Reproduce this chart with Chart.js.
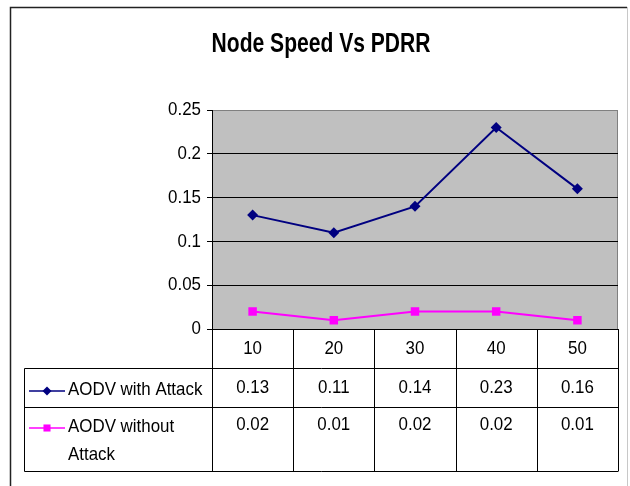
<!DOCTYPE html>
<html>
<head>
<meta charset="utf-8">
<script src="https://cdn.jsdelivr.net/npm/chart.js@4/dist/chart.umd.min.js"></script>
<style>
  html, body { margin: 0; padding: 0; background: #fff; }
  #wrap { width: 630px; height: 486px; }
</style>
</head>
<body>
<div id="wrap"><canvas id="chart" width="630" height="486"></canvas></div>
<script>
// Node speed categories and PDRR values
const speeds = ['10', '20', '30', '40', '50'];
const withAttack = [0.13, 0.11, 0.14, 0.23, 0.16];
const withoutAttack = [0.02, 0.01, 0.02, 0.02, 0.01];
const seriesNames = [['AODV with Attack'], ['AODV without', 'Attack']];

const FONT = "'Liberation Sans', Arial, sans-serif";
const NAVY = '#000080';
const MAGENTA = '#FF00FF';

// the original uses a condensed Arial, so squeeze text horizontally
function narrowText(ctx, text, x, y, align, sx) {
    ctx.save();
    ctx.translate(x, y);
    ctx.scale(sx, 1);
    ctx.textAlign = align;
    ctx.fillText(text, 0, 0);
    ctx.restore();
}

const fmt = v => String(Number(v.toFixed(2)));

// grey plot area + frame + data table drawn under the chart
const excelFrame = {
    id: 'excelFrame',
    beforeDraw(chart) {
        const { ctx, chartArea: a } = chart;
        ctx.save();
        ctx.fillStyle = '#fff';
        ctx.fillRect(0, 0, chart.width, chart.height);
        // outer chart border
        ctx.strokeStyle = '#222';
        ctx.lineWidth = 1.5;
        ctx.beginPath();
        ctx.moveTo(10.5, 490);
        ctx.lineTo(10.5, 7.5);
        ctx.lineTo(627, 7.5);
        ctx.stroke();
        ctx.strokeStyle = '#c8c8c8';
        ctx.lineWidth = 1;
        ctx.beginPath();
        ctx.moveTo(627.5, 7);
        ctx.lineTo(627.5, 490);
        ctx.stroke();
        // plot area
        ctx.fillStyle = '#C0C0C0';
        ctx.fillRect(a.left, a.top, a.right - a.left, a.bottom - a.top);
        ctx.strokeStyle = '#808080';
        ctx.strokeRect(a.left + 0.5, a.top + 0.5, a.right - a.left - 1, a.bottom - a.top);
        // title
        ctx.fillStyle = '#000';
        ctx.font = 'bold 27px ' + FONT;
        ctx.textBaseline = 'alphabetic';
        narrowText(ctx, 'Node Speed Vs PDRR', 321, 52, 'center', 0.78);
        ctx.restore();
    },
    afterDraw(chart) {
        const { ctx, chartArea: a } = chart;
        const x = chart.scales.x;
        const y = chart.scales.y;
        const colW = (a.right - a.left) / speeds.length;
        const tableLeft = 24.5;
        const r0 = a.bottom, r1 = 368.5, r2 = 407.5, r3 = 471.5;
        ctx.save();
        ctx.fillStyle = '#000';
        ctx.font = '19px ' + FONT;
        ctx.textBaseline = 'middle';

        // y tick labels from the scale
        y.ticks.forEach(t => {
            narrowText(ctx, fmt(t.value), a.left - 11, y.getPixelForValue(t.value), 'right', 0.89);
        });

        ctx.strokeStyle = '#000';
        ctx.lineWidth = 1;
        ctx.beginPath();
        ctx.moveTo(a.left, r0 + 0.5); ctx.lineTo(a.right, r0 + 0.5);
        [r1, r2, r3].forEach(yy => { ctx.moveTo(tableLeft, yy); ctx.lineTo(a.right, yy); });
        for (let i = 0; i <= speeds.length; i++) {
            const px = Math.round(a.left + i * colW) + 0.5;
            ctx.moveTo(px, r0); ctx.lineTo(px, r3);
        }
        ctx.moveTo(tableLeft, r1); ctx.lineTo(tableLeft, r3);
        ctx.stroke();

        speeds.forEach((s, i) => {
            const cx = x.getPixelForValue(i);
            narrowText(ctx, s, cx, 349, 'center', 0.89);
            narrowText(ctx, fmt(withAttack[i]), cx, 388, 'center', 0.89);
            narrowText(ctx, fmt(withoutAttack[i]), cx, 425, 'center', 0.89);
        });

        // legend keys in the row headers
        const keys = [
            { ds: chart.data.datasets[0], y: 391, text: seriesNames[0] },
            { ds: chart.data.datasets[1], y: 428, text: seriesNames[1] }
        ];
        keys.forEach(k => {
            ctx.strokeStyle = k.ds.borderColor;
            ctx.lineWidth = 1.5;
            ctx.beginPath();
            ctx.moveTo(29, k.y); ctx.lineTo(65, k.y);
            ctx.stroke();
            ctx.fillStyle = k.ds.backgroundColor;
            Chart.helpers.drawPoint(ctx, { pointStyle: k.ds.pointStyle, rotation: 0, radius: k.ds.pointRadius - 1, borderWidth: 0 }, 47, k.y);
            ctx.fillStyle = '#000';
            k.text.forEach((t, j) => narrowText(ctx, t, 68, k.y - 1 + j * 28, 'left', 0.89));
        });
        ctx.restore();
    }
};

new Chart(document.getElementById('chart'), {
    type: 'line',
    data: {
        labels: speeds,
        datasets: [
            {
                label: 'AODV with Attack',
                data: withAttack,
                borderColor: NAVY,
                backgroundColor: NAVY,
                borderWidth: 2,
                pointStyle: 'rectRot',
                pointRadius: 5.5,
                pointBorderWidth: 0,
                tension: 0
            },
            {
                label: 'AODV without Attack',
                data: withoutAttack,
                borderColor: MAGENTA,
                backgroundColor: MAGENTA,
                borderWidth: 2,
                pointStyle: 'rect',
                pointRadius: 6,
                pointBorderWidth: 0,
                tension: 0
            }
        ]
    },
    options: {
        responsive: false,
        animation: false,
        layout: { padding: { top: 110, right: 12, bottom: 157, left: 0 } },
        plugins: {
            legend: { display: false },
            title: { display: false },
            tooltip: { enabled: false }
        },
        scales: {
            x: {
                display: false,
                offset: true
            },
            y: {
                min: 0,
                max: 0.25,
                afterFit: s => { s.width = 212; },
                ticks: {
                    display: false,
                    stepSize: 0.05
                },
                grid: {
                    color: c => (c.tick && c.tick.value === 0.25) ? '#808080' : '#000',
                    tickColor: '#000',
                    tickLength: 5,
                    lineWidth: 1
                },
                border: { color: '#000', width: 1 }
            }
        }
    },
    plugins: [excelFrame]
});
</script>
</body>
</html>
